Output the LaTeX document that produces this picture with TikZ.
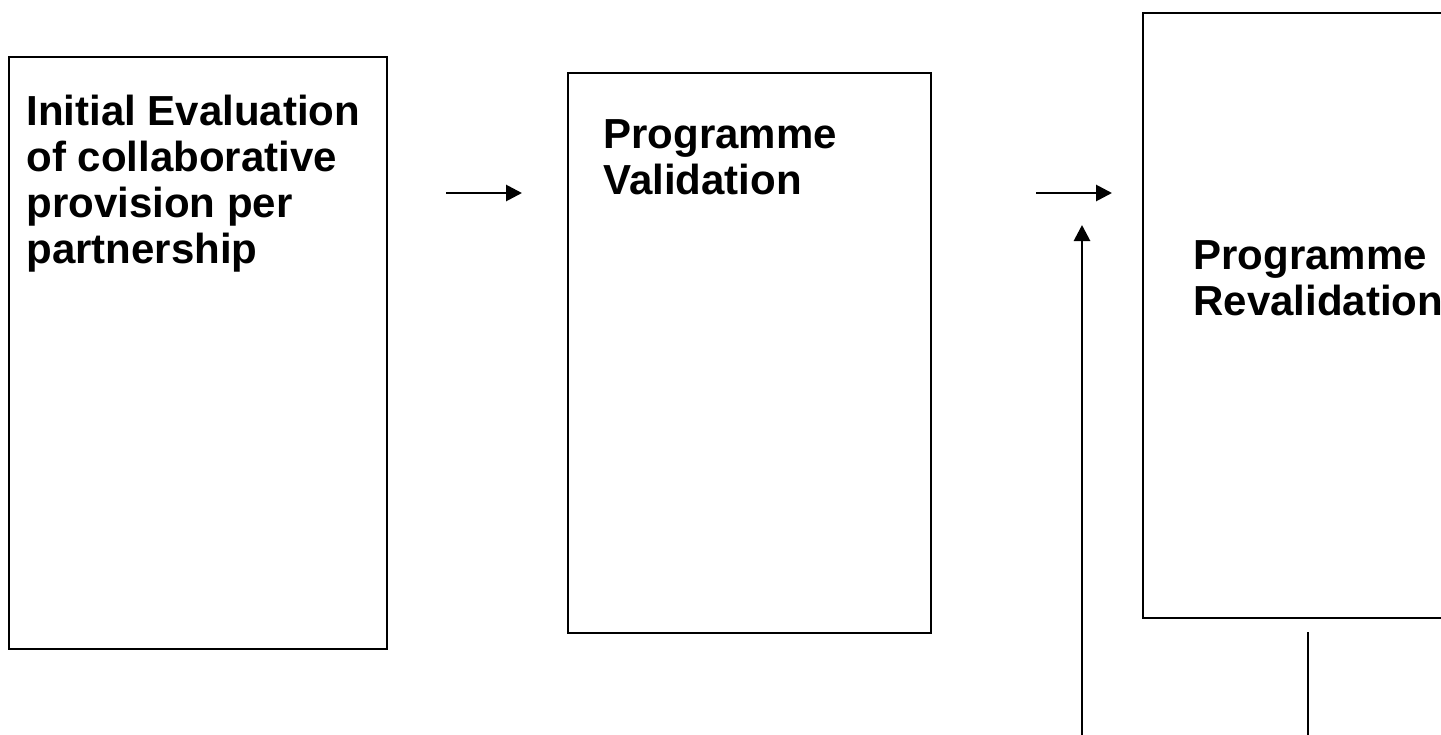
\documentclass[tikz,border=0pt]{standalone}
\usepackage{fontspec}
\setmainfont{Liberation Sans}
\usetikzlibrary{arrows.meta}
\begin{document}
\begin{tikzpicture}[x=0.5pt,y=-0.5pt,
  box/.style={draw=black,line width=1.2pt,rectangle,inner sep=0pt,anchor=north west},
  label/.style={anchor=north west,inner sep=0pt,align=left,font=\fontsize{21pt}{23pt}\selectfont\bfseries},
  conn/.style={draw=black,line width=1.4pt},
  arr/.style={conn,-{Triangle[length=8pt,width=8pt]}}]
\useasboundingbox (0,0) rectangle (1441,734);
\clip (0,0) rectangle (1441,734);
\fill[white] (0,0) rectangle (1441,734);
\node[box,minimum width=189pt,minimum height=296pt] (b1) at (8,56) {};
\node[box,minimum width=181.5pt,minimum height=280pt] (b2) at (567,72) {};
\node[box,minimum width=159pt,minimum height=302.5pt] (b3) at (1142,12) {};
\node[label] (t1) at (26,95) {Initial Evaluation\\of collaborative\\provision per\\partnership};
\node[label] (t2) at (603,119) {Programme\\Validation};
\node[label] (t3) at (1193,240) {Programme\\Revalidation};
\coordinate (a1s) at (446,193);
\coordinate (a1e) at (522,193);
\coordinate (a2s) at (1036,193);
\coordinate (a2e) at (1112,193);
\coordinate (a3s) at (1082,740);
\coordinate (a3e) at (1082,225);
\coordinate (l1s) at (1308,632);
\coordinate (l1e) at (1308,740);
\draw[arr] (a1s) -- (a1e);
\draw[arr] (a2s) -- (a2e);
\draw[arr] (a3s) -- (a3e);
\draw[conn] (l1s) -- (l1e);
\end{tikzpicture}
\end{document}
